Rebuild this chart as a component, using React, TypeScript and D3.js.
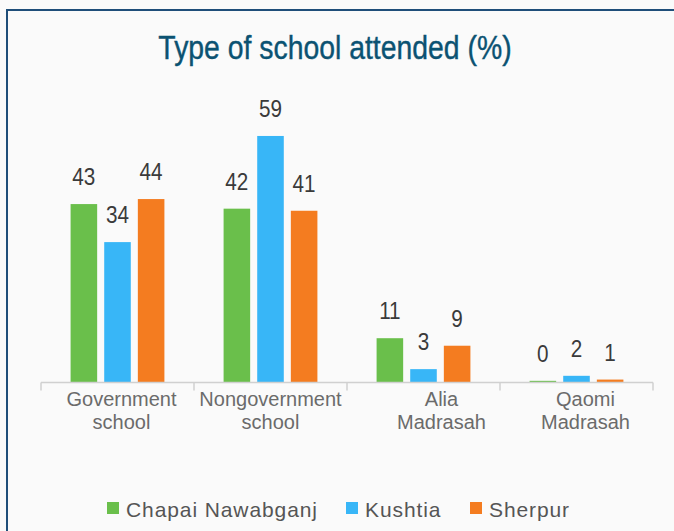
import React from "react";
import * as d3 from "d3";

const categories = [["Government", "school"], ["Nongovernment", "school"], ["Alia", "Madrasah"], ["Qaomi", "Madrasah"]];
const seriesNames = ["Chapai Nawabganj", "Kushtia", "Sherpur"];
const chapai = [42.7, 41.6, 10.6, 0.4];
const kushtia = [33.6, 59, 3.2, 1.6];
const sherpur = [43.9, 41.1, 8.8, 0.7];
const seriesValues = [chapai, kushtia, sherpur];
const colors = ["#6abf4b", "#38b6f7", "#f47c20"];
const title = "Type of school attended (%)";

const W = 674, H = 531;
const FONT = "'Liberation Sans', Arial, sans-serif";
const labelDx = [4, 0, 18, 9];

export default function App() {
  const x0 = d3.scaleBand<number>().domain(d3.range(categories.length)).range([41, 653]);
  const x1 = d3.scaleBand<number>().domain(d3.range(seriesNames.length)).range([0, x0.bandwidth()]).paddingInner(0.21).paddingOuter(0.88);
  const y = d3.scaleLinear().domain([0, 70]).range([382.5, 90]);
  const legendX = [107, 346, 470];

  return (
    <svg width={W} height={H} style={{ position: "absolute", left: 0, top: 0, display: "block" }}>
      <rect x={0} y={0} width={W} height={H} fill="#fafafa" />
      <line x1={7} y1={10} x2={W} y2={10} stroke="#1f4e79" strokeWidth={2} />
      <line x1={7} y1={9} x2={7} y2={H} stroke="#1f4e79" strokeWidth={2} />
      <text transform="translate(335,59) scale(0.86,1)" textAnchor="middle" fontFamily={FONT} fontSize={33} fill="#0b5272" stroke="#0b5272" strokeWidth={0.4}>{title}</text>
      {seriesValues.map((vals, s) =>
        vals.map((v, i) => {
          const bx = (x0(i) as number) + (x1(s) as number);
          return (
            <g key={`${s}-${i}`}>
              <rect x={bx} y={y(v)} width={x1.bandwidth()} height={y(0) - y(v)} fill={colors[s]} />
              <text transform={`translate(${bx + x1.bandwidth() / 2},${y(v) - 19}) scale(0.88,1)`} textAnchor="middle" fontFamily={FONT} fontSize={23.5} fill="#3a3a3a">{Math.round(v)}</text>
            </g>
          );
        })
      )}
      <line x1={41} x2={653} y1={y(0)} y2={y(0)} stroke="#d0d0d0" strokeWidth={1.5} />
      {d3.range(categories.length + 1).map((i) => {
        const tx = 41 + i * x0.step();
        return <line key={i} x1={tx} x2={tx} y1={y(0)} y2={y(0) + 8} stroke="#d0d0d0" strokeWidth={1.5} />;
      })}
      {categories.map((lines, i) => {
        const cx = (x0(i) as number) + x0.bandwidth() / 2 + labelDx[i];
        return (
          <text key={i} x={cx} y={406} textAnchor="middle" fontFamily={FONT} fontSize={20} fill="#6b6b6b">
            {lines.map((l, k) => (
              <tspan key={k} x={cx} dy={k === 0 ? 0 : 22.5}>{l}</tspan>
            ))}
          </text>
        );
      })}
      {seriesNames.map((n, s) => (
        <g key={n}>
          <rect x={legendX[s]} y={502} width={12} height={12} fill={colors[s]} />
          <text x={legendX[s] + 19} y={516.5} fontFamily={FONT} fontSize={21} letterSpacing={0.9} fill="#555555">{n}</text>
        </g>
      ))}
    </svg>
  );
}
